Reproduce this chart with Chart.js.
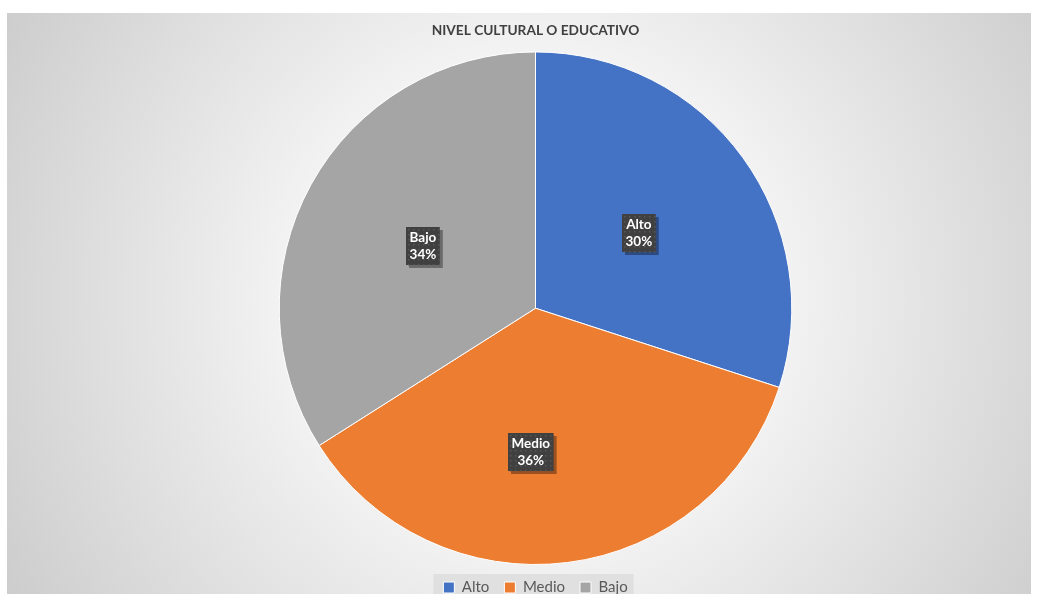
<!DOCTYPE html>
<html>
<head>
<meta charset="utf-8">
<title>Nivel cultural o educativo</title>
<script src="https://cdn.jsdelivr.net/npm/chart.js@4.4.0/dist/chart.umd.min.js"></script>
<style>
  html, body { margin: 0; padding: 0; background: #ffffff; }
  #wrap { width: 1039px; height: 594px; position: relative; }
</style>
</head>
<body>
<div id="wrap"><canvas id="grafico"></canvas></div>
<script>
// datos del gráfico
const categorias = ['Alto', 'Medio', 'Bajo'];
const porcentajes = [30, 36, 34];
const colores = ['#4472C4', '#ED7D31', '#A5A5A5'];
const titulo = 'NIVEL CULTURAL O EDUCATIVO';

const FUENTE = 'Lato, "Open Sans", "Liberation Sans", sans-serif';

// fondo con degradado radial y caja de la leyenda
const fondoPlugin = {
    id: 'fondo',
    beforeDraw(chart) {
        const ctx = chart.ctx;
        const x0 = 7, y0 = 13, x1 = 1031, y1 = chart.height;
        const cx = 535, cy = 300;
        const g = ctx.createRadialGradient(cx, cy, 0, cx, cy, 620);
        g.addColorStop(0, '#ffffff');
        g.addColorStop(0.35, '#f6f6f6');
        g.addColorStop(1, '#cbcbcb');
        ctx.save();
        ctx.fillStyle = g;
        ctx.fillRect(x0, y0, x1 - x0, y1 - y0);

        // caja gris clara detrás de la leyenda
        const leg = chart.legend;
        if (leg && leg.legendHitBoxes.length) {
            const hb = leg.legendHitBoxes;
            const left = hb[0].left - 10;
            const right = hb[hb.length - 1].left + hb[hb.length - 1].width + 6;
            const top = hb[0].top - 6;
            ctx.fillStyle = 'rgba(222,222,222,0.9)';
            ctx.fillRect(left, top, right - left, 40);
        }
        ctx.restore();
    }
};

// etiquetas de datos en cajas oscuras con patrón de puntos
const etiquetasPlugin = {
    id: 'etiquetas',
    afterDatasetsDraw(chart, args, opts) {
        const ctx = chart.ctx;
        const meta = chart.getDatasetMeta(0);
        meta.data.forEach((arc, i) => {
            const p = arc.getProps(['x', 'y', 'startAngle', 'endAngle', 'outerRadius'], true);
            const mid = (p.startAngle + p.endAngle) / 2 + opts.giros[i] * Math.PI / 180;
            const r = p.outerRadius * opts.distancias[i];
            const x = p.x + Math.cos(mid) * r;
            const y = p.y + Math.sin(mid) * r;
            const l1 = categorias[i];
            const l2 = porcentajes[i] + '%';
            ctx.save();
            ctx.font = 'bold 13.5px ' + FUENTE;
            const w = Math.max(ctx.measureText(l1).width, ctx.measureText(l2).width) + 7;
            const h = 38;
            const bx = Math.round(x - w / 2), by = Math.round(y - h / 2);
            // sombra
            ctx.fillStyle = 'rgba(0,0,0,0.35)';
            ctx.fillRect(bx + 3, by + 3, w, h);
            ctx.fillStyle = '#404040';
            ctx.fillRect(bx, by, w, h);
            // patrón de puntos
            ctx.fillStyle = '#575757';
            for (let yy = by + 2; yy < by + h; yy += 5) {
                for (let xx = bx + 2; xx < bx + w; xx += 5) {
                    ctx.fillRect(xx, yy, 1.5, 1.5);
                }
            }
            ctx.fillStyle = '#ffffff';
            ctx.textAlign = 'center';
            ctx.textBaseline = 'middle';
            ctx.fillText(l1, bx + w / 2, by + 11);
            ctx.fillText(l2, bx + w / 2, by + 28);
            ctx.restore();
        });
    }
};

const ctx = document.getElementById('grafico').getContext('2d');
new Chart(ctx, {
    type: 'pie',
    data: {
        labels: categorias,
        datasets: [{
            data: porcentajes,
            backgroundColor: colores,
            borderColor: '#ffffff',
            borderWidth: 1
        }]
    },
    options: {
        responsive: true,
        maintainAspectRatio: false,
        animation: false,
        layout: { padding: { top: 13, bottom: -11, left: 32, right: 0 } },
        plugins: {
            title: {
                display: true,
                text: titulo,
                color: '#404040',
                font: { family: FUENTE, size: 13.7, weight: 'bold' },
                padding: { top: 9, bottom: 13 }
            },
            legend: {
                display: true,
                position: 'bottom',
                labels: {
                    color: '#595959',
                    font: { family: FUENTE, size: 15 },
                    boxWidth: 11,
                    boxHeight: 11,
                    padding: 15,
                    useBorderRadius: false
                }
            },
            tooltip: { enabled: false },
            etiquetas: { distancias: [0.5, 0.56, 0.5], giros: [0, 9, 0] }
        }
    },
    plugins: [fondoPlugin, etiquetasPlugin]
});
</script>
</body>
</html>
